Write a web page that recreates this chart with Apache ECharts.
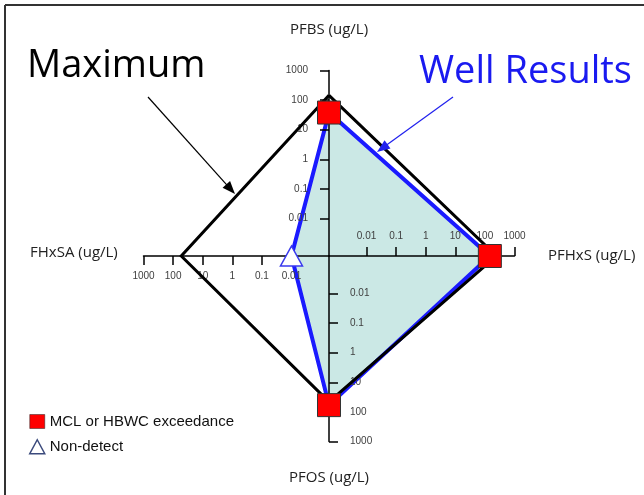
<!DOCTYPE html>
<html>
<head>
<meta charset="utf-8">
<script src="https://cdn.jsdelivr.net/npm/echarts@6/dist/echarts.min.js"></script>
<style>
  html, body { margin: 0; padding: 0; background: #fff; }
  #chart { width: 644px; height: 495px; }
</style>
</head>
<body>
<div id="chart"></div>
<script>
// Analytes, one per spoke, clockwise from the top
const analytes = ['PFBS', 'PFHxS', 'PFOS', 'FHxSA'];
const axisTitles = ['PFBS (ug/L)', 'PFHxS (ug/L)', 'PFOS (ug/L)', 'FHxSA (ug/L)'];
const spokeAngles = [0, 90, 180, 270];

// Concentrations (ug/L)
const maximumValues = [145, 245, 46, 53];
const wellValues = [38, 147, 59, 0.01];
// true = result above MCL or HBWC, false = non-detect (plotted at the reporting limit)
const exceedance = [true, true, true, false];

// Log tick marks shown on every spoke
const tickValues = [0.01, 0.1, 1, 10, 100, 1000];
const radiusMin = 0.00054;
const radiusMax = 1000;

const center = [329, 256];
const radius = 185.5;

// Closed ring of [value, angle] pairs for a polar line
function ring(values) {
  const pts = values.map((v, i) => [v, spokeAngles[i]]);
  pts.push([values[0], 360]);
  return pts;
}

// One polar system per spoke so each log radius axis is drawn in its own direction
const spokeStart = [90, 0, -90, 180];
const labelMargin = [21, 15, 21, 15];
const polar = spokeStart.map(() => ({ center: center, radius: radius }));
const angleAxis = spokeStart.map((s, i) => ({
  polarIndex: i,
  type: 'value', min: 0, max: 360, startAngle: s, clockwise: true,
  show: false
}));
const radiusAxis = spokeStart.map((s, i) => ({
  polarIndex: i,
  type: 'log',
  logBase: 10,
  min: radiusMin,
  max: radiusMax,
  axisLine: { show: true, lineStyle: { color: '#000', width: 1.5 } },
  axisTick: { show: true, length: 9, lineStyle: { color: '#000', width: 1.5 }, customValues: tickValues },
  axisLabel: {
    show: true, margin: labelMargin[i], color: '#404040', fontSize: 10,
    fontFamily: 'Liberation Sans', customValues: tickValues,
    formatter: v => String(+Number(v).toPrecision(3))
  },
  splitLine: { show: false },
  splitArea: { show: false },
  z: 3
}));

const exceedPts = [], nondetectPts = [];
wellValues.forEach((v, i) => {
  (exceedance[i] ? exceedPts : nondetectPts).push([v, spokeAngles[i]]);
});

const chart = echarts.init(document.getElementById('chart'), null, { renderer: 'canvas' });

function arrow(x1, y1, x2, y2, color, w) {
  const dx = x2 - x1, dy = y2 - y1, L = Math.hypot(dx, dy);
  const ux = dx / L, uy = dy / L, hl = 13, hw = 5;
  const bx = x2 - ux * hl, by = y2 - uy * hl;
  return [
    { type: 'line', shape: { x1: x1, y1: y1, x2: bx + ux * 2, y2: by + uy * 2 }, style: { stroke: color, lineWidth: w }, z: 20 },
    { type: 'polygon', shape: { points: [[x2, y2], [bx - uy * hw, by + ux * hw], [bx + uy * hw, by - ux * hw]] }, style: { fill: color }, z: 20 }
  ];
}

const titleFont = { fontFamily: 'Open Sans', fontSize: 15, fill: '#222' };

chart.setOption({
  animation: false,
  backgroundColor: '#fff',
  polar: polar,
  angleAxis: angleAxis,
  radiusAxis: radiusAxis,
  legend: {
    orient: 'vertical', left: 24, top: 409, itemGap: 10,
    itemWidth: 15, itemHeight: 14,
    textStyle: { fontFamily: 'Liberation Sans', fontSize: 15, color: '#111' },
    data: [
      { name: 'MCL or HBWC exceedance', icon: 'rect', itemStyle: { color: '#ff0000', borderColor: '#222', borderWidth: 0.5, opacity: 1 } },
      { name: 'Non-detect', icon: 'triangle', itemStyle: { color: '#fff', borderColor: '#3b4a7c', borderWidth: 1.5, opacity: 1 } }
    ]
  },
  series: [
    {
      name: 'Maximum', type: 'line', coordinateSystem: 'polar', polarIndex: 0,
      data: ring(maximumValues), symbol: 'none', silent: true,
      lineStyle: { color: '#000', width: 3, join: 'miter' }, z: 4
    },
    {
      name: 'Well Results', type: 'line', coordinateSystem: 'polar', polarIndex: 0,
      data: ring(wellValues), symbol: 'none', silent: true,
      lineStyle: { color: '#1a1aff', width: 4, join: 'round' },
      areaStyle: { color: '#cbe8e5', opacity: 1 }, z: 2
    },
    {
      name: 'MCL or HBWC exceedance', type: 'scatter', coordinateSystem: 'polar', polarIndex: 0,
      data: exceedPts, symbol: 'rect', symbolSize: 23,
      itemStyle: { color: '#ff0000', borderColor: '#333', borderWidth: 1, opacity: 1 }, z: 6
    },
    {
      name: 'Non-detect', type: 'scatter', coordinateSystem: 'polar', polarIndex: 0,
      data: nondetectPts, symbol: 'triangle', symbolSize: [22, 20],
      itemStyle: { color: '#fff', borderColor: '#3a3aee', borderWidth: 1.5, opacity: 1 }, z: 6
    }
  ],
  graphic: [
    { type: 'line', shape: { x1: 5, y1: 5, x2: 644, y2: 5 }, style: { stroke: '#333', lineWidth: 2 } },
    { type: 'line', shape: { x1: 5, y1: 5, x2: 5, y2: 495 }, style: { stroke: '#333', lineWidth: 2 } },
    { type: 'text', x: 329, y: 30, style: Object.assign({ text: axisTitles[0], align: 'center', verticalAlign: 'middle' }, titleFont) },
    { type: 'text', x: 548, y: 256, style: Object.assign({ text: axisTitles[1], align: 'left', verticalAlign: 'middle' }, titleFont) },
    { type: 'text', x: 329, y: 478, style: Object.assign({ text: axisTitles[2], align: 'center', verticalAlign: 'middle' }, titleFont) },
    { type: 'text', x: 30, y: 253, style: Object.assign({ text: axisTitles[3], align: 'left', verticalAlign: 'middle' }, titleFont) },
    { type: 'text', x: 27, y: 66, style: { text: 'Maximum', fontFamily: 'Open Sans', fontSize: 38, fill: '#000', align: 'left', verticalAlign: 'middle' }, z: 20 },
    { type: 'text', x: 419, y: 72, style: { text: 'Well Results', fontFamily: 'Open Sans', fontSize: 38, fill: '#1a1af0', align: 'left', verticalAlign: 'middle' }, z: 20 }
  ]
    .concat(arrow(148, 97, 235, 194, '#000', 1.2))
    .concat(arrow(453, 97, 377, 152, '#2020ee', 1.2))
});
</script>
</body>
</html>
